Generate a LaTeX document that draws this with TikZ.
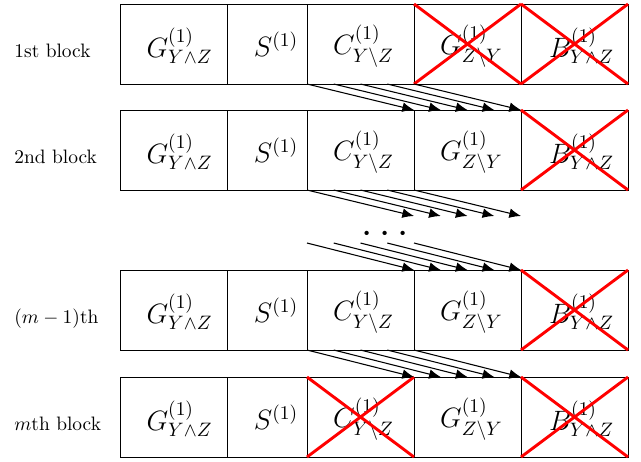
\documentclass[tikz,border=0pt]{standalone}
\usetikzlibrary{arrows.meta,calc}
\begin{document}
\begin{tikzpicture}[x=0.5148pt,y=-0.5148pt,
  cell/.style={draw, line width=0.5pt, inner sep=0pt, outer sep=0pt, minimum height=80*0.5148pt, anchor=north west},
  wide/.style={cell, minimum width=107*0.5148pt},
  narrow/.style={cell, minimum width=80*0.5148pt},
  lbl/.style={font=\Large, inner sep=0pt},
  rowlbl/.style={anchor=base west, inner sep=0pt},
  cross/.style={draw=red, line width=1.5pt},
  arr/.style={-{Latex[length=6pt,width=5pt]}, line width=0.55pt}]
\useasboundingbox (0,0) rectangle (641,461);
\foreach \r/\y in {1/4,2/110,3/270,4/377} {
  \node[wide]   (b\r-c1) at (120,\y) {};
  \node[narrow] (b\r-c2) at (b\r-c1.north east) {};
  \node[wide]   (b\r-c3) at (b\r-c2.north east) {};
  \node[wide]   (b\r-c4) at (b\r-c3.north east) {};
  \node[wide]   (b\r-c5) at (b\r-c4.north east) {};
  \node[lbl] at ($(b\r-c1.center)+(6,2)$) {$G^{(1)}_{Y\wedge Z}$};
  \node[lbl] at ($(b\r-c2.center)+(9,0)$) {$S^{(1)}$};
  \node[lbl] at ($(b\r-c3.center)+(3,2)$) {$C^{(1)}_{Y\setminus Z}$};
  \node[lbl] at ($(b\r-c4.center)+(4,2)$) {$G^{(1)}_{Z\setminus Y}$};
  \node[lbl] at ($(b\r-c5.center)+(7,2)$) {$B^{(1)}_{Y\wedge Z}$};
}
\node[rowlbl] (l1) at (14,57) {1st block};
\node[rowlbl] (l2) at (14,163) {2nd block};
\node[rowlbl] (l3) at (14,323) {$(m-1)$th};
\node[rowlbl] (l4) at (14,430) {$m$th block};
% crosses
\foreach \c in {b1-c4,b1-c5,b2-c5,b3-c5,b4-c3,b4-c5} {
  \draw[cross] (\c.north west) -- (\c.south east) (\c.south west) -- (\c.north east);
}
% arrows
\foreach \i in {0,...,4} {
  \draw[arr] ($(b1-c3.south west)!\i/4!(b1-c3.south east)$) -- ($(b2-c4.north west)!\i/4!(b2-c4.north east)$);
  \draw[arr] ($(b3-c3.south west)!\i/4!(b3-c3.south east)$) -- ($(b4-c4.north west)!\i/4!(b4-c4.north east)$);
  \coordinate (u\i) at ($(b2-c4.south west)!\i/4!(b2-c4.south east)+(0,26)$);
  \coordinate (s\i) at ($(b3-c3.north west)!\i/4!(b3-c3.north east)+(0,-27)$);
  \draw[arr] ($(b2-c3.south west)!\i/4!(b2-c3.south east)$) -- (u\i);
  \draw[arr] (s\i) -- ($(b3-c4.north west)!\i/4!(b3-c4.north east)$);
}
\node[font=\huge, inner sep=0pt] (dots) at (385,235) {$\cdots$};
\end{tikzpicture}
\end{document}
